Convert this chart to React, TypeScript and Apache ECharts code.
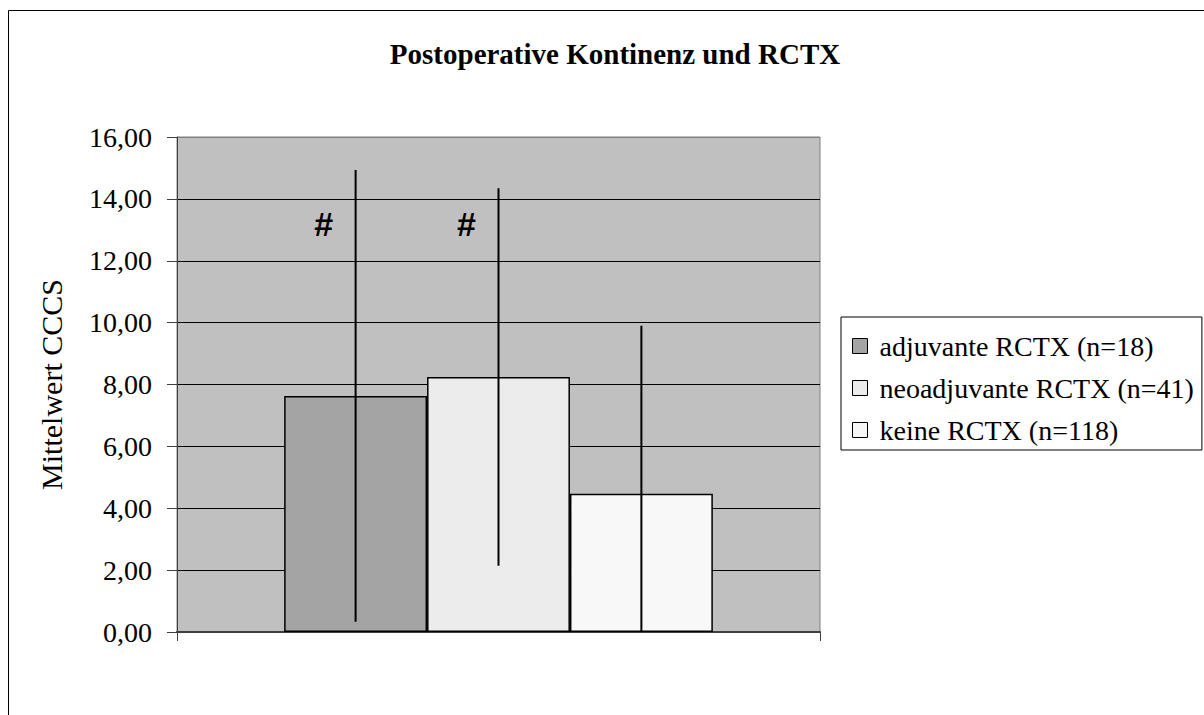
import React, { useEffect, useRef } from "react";
import * as echarts from "echarts";

const categories = ["Gruppe"];
const seriesNames = ["adjuvante RCTX (n=18)", "neoadjuvante RCTX (n=41)", "keine RCTX (n=118)"];
const means = [7.63, 8.24, 4.47];
const sds = [7.3, 6.1, 5.43];
const markers = ["#", "#", ""];
const yTicks = [0, 2, 4, 6, 8, 10, 12, 14, 16];
const barColors = ["#a4a4a4", "#ececec", "#f8f8f8"];

const SERIF = "Liberation Serif";
const GAP = 1 / 3;

export default function App() {
  const ref = useRef<HTMLDivElement>(null);
  useEffect(() => {
    if (!ref.current) return;
    const chart = echarts.init(ref.current, undefined, { renderer: "svg" });
    const barSeries = seriesNames.map((name, i) => ({
      name,
      type: "bar",
      data: [means[i]],
      barGap: "0%",
      barCategoryGap: (GAP * 100).toFixed(2) + "%",
      itemStyle: { color: barColors[i], borderColor: "#000", borderWidth: 1.5 },
      z: 2,
    }));
    const errData = means.map((m, i) => [0, m, Math.max(0, m - sds[i]), m + sds[i], i]);
    const errSeries = {
      type: "custom",
      name: "err",
      data: errData,
      z: 5,
      silent: true,
      renderItem: (params: any, api: any) => {
        const cat = api.value(0);
        const low = api.value(2);
        const high = api.value(3);
        const idx = api.value(4);
        const band = api.size([1, 0])[0];
        const barW = (band * (1 - GAP)) / seriesNames.length;
        const c = api.coord([cat, 0]);
        const x = c[0] + (idx - (seriesNames.length - 1) / 2) * barW;
        const pLow = api.coord([cat, low]);
        const pHigh = api.coord([cat, high]);
        const children: any[] = [
          {
            type: "line",
            shape: { x1: x, y1: pLow[1], x2: x, y2: pHigh[1] },
            style: { stroke: "#000", lineWidth: 2 },
          },
        ];
        const mk = markers[idx];
        if (mk) {
          const pm = api.coord([cat, 13.2]);
          children.push({
            type: "text",
            style: {
              text: mk,
              x: x - 32,
              y: pm[1],
              fill: "#000",
              font: "bold 34px Liberation Sans",
              align: "center",
              verticalAlign: "middle",
            },
          });
        }
        return { type: "group", children };
      },
    };
    const option: any = {
      animation: false,
      backgroundColor: "#fff",
      title: {
        text: "Postoperative Kontinenz und RCTX",
        left: 610,
        textAlign: "center",
        top: 34,
        textStyle: { fontFamily: SERIF, fontWeight: "bold", fontSize: 29, color: "#000" },
      },
      graphic: [
        {
          type: "rect",
          shape: { x: 8.5, y: 10.5, width: 1300, height: 900 },
          style: { fill: "none", stroke: "#000", lineWidth: 1 },
          z: 100,
          silent: true,
        },
      ],
      legend: {
        data: seriesNames,
        orient: "vertical",
        left: 841,
        top: 317,
        borderColor: "#000",
        borderWidth: 1,
        padding: [15, 8, 6, 11],
        itemGap: 14,
        itemWidth: 15,
        itemHeight: 15,
        icon: "rect",
        itemStyle: { borderColor: "#000", borderWidth: 1 },
        textStyle: { fontFamily: SERIF, fontSize: 28, color: "#000", padding: [0, 0, 0, 7] },
        selectedMode: false,
      },
      grid: {
        left: 177,
        top: 137,
        right: 384,
        bottom: 83,
        show: true,
        backgroundColor: "#c0c0c0",
        borderColor: "#808080",
        borderWidth: 1,
      },
      xAxis: {
        type: "category",
        data: categories,
        axisLine: { lineStyle: { color: "#404040", width: 2 } },
        axisTick: { show: true, length: 9, lineStyle: { color: "#404040" } },
        axisLabel: { show: false },
      },
      yAxis: {
        type: "value",
        min: yTicks[0],
        max: yTicks[yTicks.length - 1],
        interval: 2,
        name: "Mittelwert CCCS",
        nameLocation: "middle",
        nameGap: 111,
        nameRotate: 90,
        nameTextStyle: { fontFamily: SERIF, fontSize: 30, color: "#000" },
        axisLine: { show: true, lineStyle: { color: "#404040", width: 1 } },
        axisTick: { show: true, length: 10, lineStyle: { color: "#404040" } },
        axisLabel: {
          fontFamily: SERIF,
          fontSize: 28,
          color: "#000",
          margin: 25,
          formatter: (v: number) => v.toFixed(2).replace(".", ","),
        },
        splitLine: {
          show: true,
          lineStyle: {
            color: yTicks.map((t, i) => (i === yTicks.length - 1 ? "#808080" : "#000")),
            width: 1,
          },
        },
      },
      series: [...barSeries, errSeries],
    };
    chart.setOption(option);
    return () => chart.dispose();
  }, []);
  return (
    <div
      ref={ref}
      style={{ position: "absolute", left: 0, top: 0, width: 1204, height: 715 }}
    />
  );
}
